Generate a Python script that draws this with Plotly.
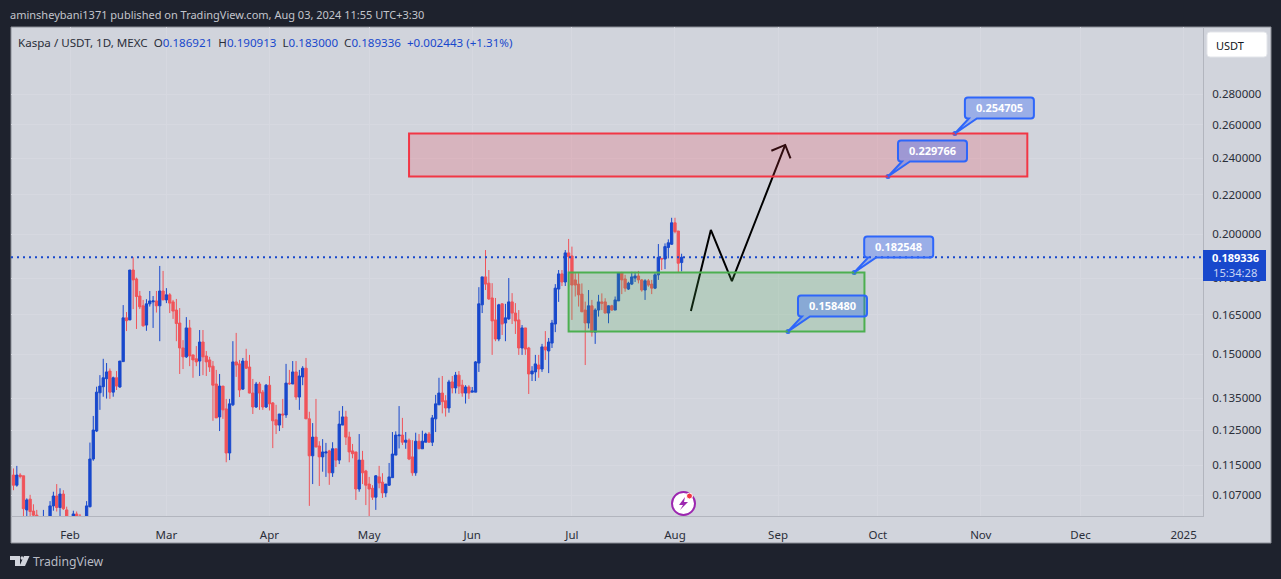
import math
import pandas as pd
import plotly.graph_objects as go

opens = [
.1123,.1096,.1123,.1121,.1033,.1060,.1030,.1020,.1006,.0996,
.1008,.1012,.1043,.1068,.1039,.1073,.1033,.1012,.1008,.1023,
.1018,.1000,.1016,.1041,.1167,.1248,.1368,.1388,.1415,.1441,
.1370,.1418,.1387,.1474,.1637,.1629,.1836,.1797,.1725,.1685,
.1609,.1693,.1701,.1705,.1685,.1746,.1709,.1730,.1701,.1668,
.1617,.1523,.1491,.1598,.1498,.1484,.1476,.1545,.1494,.1480,
.1458,.1397,.1291,.1390,.1316,.1184,.1329,.1473,.1466,.1380,
.1476,.1455,.1367,.1322,.1397,.1370,.1322,.1393,.1335,.1282,
.1266,.1300,.1297,.1400,.1397,.1438,.1354,.1421,.1451,.1285,
.1176,.1230,.1204,.1173,.1184,.1190,.1129,.1196,.1164,.1266,
.1291,.1230,.1190,.1187,.1086,.1164,.1134,.1099,.1088,.1065,
.1118,.1104,.1076,.1096,.1116,.1178,.1234,.1236,.1215,.1221,
.1173,.1129,.1218,.1196,.1215,.1239,.1215,.1285,.1329,.1367,
.1342,.1319,.1404,.1384,.1427,.1393,.1367,.1387,.1370,.1370,
.1469,.1689,.1806,.1779,.1717,.1629,.1556,.1693,.1617,.1633,
.1701,.1656,.1629,.1523,.1598,.1523,.1431,.1438,.1462,.1448,
.1527,.1512,.1541,.1613,.1754,.1819,.1784,.1913,.1899,.1793,
.1775,.1733,.1668,.1617,.1685,.1582,.1668,.1701,.1701,.1656,
.1685,.1668,.1705,.1823,.1797,.1754,.1775,.1801,.1810,.1793,
.1750,.1789,.1775,.1758,.1815,.1888,.1885,.1938,.1953,.2056,
.2016,.186921]

highs = [
.1141,.1148,.1128,.1121,.1062,.1071,.1047,.1033,.1010,.1033,
.1010,.1055,.1079,.1099,.1088,.1083,.1041,.1016,.1031,.1029,
.1023,.1016,.1055,.1214,.1294,.1388,.1427,.1484,.1469,.1450,
.1422,.1441,.1476,.1688,.1660,.1836,.1893,.1803,.1746,.1709,
.1712,.1746,.1725,.1746,.1854,.1832,.1758,.1737,.1709,.1713,
.1676,.1552,.1640,.1629,.1498,.1530,.1590,.1590,.1512,.1491,
.1476,.1445,.1431,.1390,.1348,.1348,.1548,.1579,.1480,.1487,
.1520,.1498,.1414,.1404,.1404,.1377,.1397,.1424,.1338,.1329,
.1300,.1348,.1466,.1445,.1476,.1476,.1445,.1458,.1487,.1307,
.1272,.1348,.1218,.1224,.1213,.1193,.1215,.1196,.1310,.1325,
.1310,.1246,.1210,.1187,.1239,.1190,.1137,.1118,.1096,.1123,
.1148,.1128,.1099,.1156,.1245,.1247,.1325,.1288,.1245,.1226,
.1221,.1243,.1239,.1249,.1243,.1245,.1297,.1361,.1418,.1424,
.1360,.1411,.1424,.1438,.1441,.1411,.1393,.1393,.1387,.1476,
.1762,.1806,.1926,.1836,.1779,.1717,.1693,.1696,.1693,.1801,
.1737,.1696,.1668,.1609,.1598,.1527,.1458,.1498,.1498,.1538,
.1586,.1560,.1629,.1775,.1836,.1836,.1926,.1978,.1942,.1822,
.1822,.1778,.1702,.1750,.1709,.1675,.1730,.1736,.1716,.1687,
.1689,.1723,.1823,.1828,.1815,.1785,.1828,.1828,.1832,.1797,
.1796,.1797,.1793,.1823,.1954,.1888,.1957,.1976,.2081,.2081,
.2016,.190913]

lows = [
.1083,.1092,.1114,.1000,.1008,.1008,.1008,.1004,.0992,.0992,
.0992,.1008,.1031,.1029,.1016,.1033,.1008,.0996,.1004,.1004,
.1004,.0992,.1008,.1039,.1162,.1245,.1313,.1355,.1349,.1348,
.1355,.1377,.1384,.1473,.1586,.1629,.1672,.1594,.1672,.1603,
.1587,.1682,.1598,.1658,.1548,.1709,.1696,.1656,.1633,.1548,
.1431,.1448,.1487,.1458,.1418,.1458,.1424,.1427,.1424,.1438,
.1279,.1288,.1248,.1285,.1158,.1164,.1325,.1421,.1354,.1377,
.1448,.1366,.1300,.1319,.1313,.1313,.1319,.1311,.1198,.1239,
.1248,.1257,.1288,.1394,.1397,.1345,.1313,.1393,.1285,.1043,
.1099,.1201,.1094,.1132,.1118,.1097,.1118,.1145,.1153,.1266,
.1207,.1158,.1169,.1058,.1079,.1099,.1045,.1008,.1058,.1033,
.1088,.1063,.1065,.1094,.1116,.1178,.1197,.1207,.1196,.1164,
.1121,.1121,.1196,.1196,.1215,.1215,.1204,.1245,.1329,.1302,
.1292,.1304,.1366,.1366,.1364,.1355,.1333,.1348,.1370,.1370,
.1438,.1656,.1750,.1709,.1498,.1548,.1548,.1571,.1548,.1629,
.1613,.1575,.1498,.1498,.1498,.1364,.1407,.1407,.1418,.1438,
.1480,.1434,.1523,.1582,.1701,.1767,.1767,.1762,.1629,.1723,
.1682,.1660,.1462,.1596,.1565,.1538,.1642,.1668,.1655,.1616,
.1665,.1668,.1705,.1733,.1743,.1750,.1771,.1784,.1778,.1743,
.1709,.1764,.1733,.1754,.1793,.1836,.1840,.1888,.1950,.2005,
.1825,.183000]

closes = [
.1096,.1123,.1119,.1036,.1058,.1029,.1020,.1010,.1000,.1012,
.1000,.1043,.1068,.1039,.1073,.1036,.1012,.1004,.1023,.1008,
.1008,.1008,.1043,.1167,.1251,.1370,.1390,.1418,.1438,.1370,
.1418,.1390,.1476,.1637,.1626,.1836,.1793,.1723,.1681,.1606,
.1693,.1705,.1705,.1685,.1746,.1709,.1730,.1696,.1664,.1615,
.1523,.1491,.1598,.1494,.1480,.1473,.1545,.1491,.1473,.1455,
.1393,.1288,.1390,.1313,.1184,.1332,.1473,.1462,.1377,.1476,
.1451,.1367,.1322,.1397,.1367,.1322,.1393,.1332,.1279,.1266,
.1300,.1297,.1400,.1398,.1438,.1354,.1424,.1451,.1285,.1176,
.1230,.1201,.1173,.1187,.1187,.1129,.1196,.1164,.1269,.1291,
.1230,.1187,.1182,.1086,.1164,.1129,.1096,.1086,.1065,.1121,
.1102,.1076,.1099,.1118,.1181,.1236,.1236,.1215,.1221,.1167,
.1129,.1218,.1196,.1218,.1239,.1215,.1288,.1332,.1367,.1339,
.1319,.1404,.1384,.1427,.1390,.1367,.1387,.1367,.1374,.1473,
.1693,.1806,.1775,.1713,.1625,.1556,.1689,.1613,.1637,.1701,
.1656,.1625,.1523,.1598,.1519,.1431,.1441,.1466,.1448,.1527,
.1516,.1545,.1617,.1758,.1819,.1784,.1913,.1896,.1771,.1771,
.1730,.1661,.1617,.1685,.1582,.1668,.1701,.1695,.1656,.1685,
.1668,.1709,.1823,.1793,.1758,.1779,.1806,.1810,.1793,.1750,
.1789,.1771,.1758,.1815,.1893,.1885,.1942,.1960,.2056,.2013,
.1866,.189336]

start_date = "2024-01-15"
month_ticks = ["2024-02-01","2024-03-01","2024-04-01","2024-05-01","2024-06-01","2024-07-01",
               "2024-08-01","2024-09-01","2024-10-01","2024-11-01","2024-12-01","2025-01-01"]
month_labels = ["Feb","Mar","Apr","May","Jun","Jul","Aug","Sep","Oct","Nov","Dec","2025"]
price_ticks = [.107,.115,.125,.135,.15,.165,.18,.20,.22,.24,.26,.28]

last_price = 0.189336
red_zone = dict(x0="2024-05-13", x1="2024-11-15", low=0.229766, high=0.254705)
green_zone = dict(x0="2024-06-30", x1="2024-09-27", low=0.158480, high=0.182548)
path_x = ["2024-08-05 19:00","2024-08-11 19:00","2024-08-18 03:00","2024-09-03 04:00"]
path_y = [.1664,.2021,.1788,.2478]
head_x = ["2024-08-30 00:00","2024-09-03 04:00","2024-09-04 18:00"]
head_y = [.2444,.2478,.2400]
callout_x = ["2024-10-24 05:00","2024-10-04 02:00","2024-09-23 22:00","2024-09-04 00:00"]
callout_y = [0.254705,0.229766,0.182548,0.158480]

BLUE = "#1848CC"
RED = "#F0545A"
PANEL = "#D1D4DC"
DARK = "#1E222D"
GRID = "#D6D8E0"
FONT = "Noto Sans, Roboto, sans-serif"

W, H = 1281, 579
L, R, T, B = 11, 1203, 27, 516

def sx(px): return (px - L) / (R - L)
def sy(py): return (B - py) / (B - T)
def rel(*pts):
    return " ".join(f"{a} {x-L:.1f} {T-y:.1f}" if a != "Z" else "Z" for a, x, y in pts)

def abs_rect(x0, y0, x1, y1, fill, line=None, lw=0, layer="below", r=0):
    if r:
        path = (f"M {x0+r-L} {T-y0} L {x1-r-L} {T-y0} Q {x1-L} {T-y0} {x1-L} {T-y0-r} "
                f"L {x1-L} {T-y1+r} Q {x1-L} {T-y1} {x1-r-L} {T-y1} L {x0+r-L} {T-y1} "
                f"Q {x0-L} {T-y1} {x0-L} {T-y1+r} L {x0-L} {T-y0-r} Q {x0-L} {T-y0} {x0+r-L} {T-y0} Z")
        return dict(type="path", xref="paper", yref="paper", xsizemode="pixel", ysizemode="pixel",
                    xanchor=0, yanchor=1, path=path, fillcolor=fill,
                    line=dict(color=line or fill, width=lw), layer=layer)
    return dict(type="rect", xref="paper", yref="paper", x0=sx(x0), x1=sx(x1), y0=sy(y0), y1=sy(y1),
                fillcolor=fill, line=dict(color=line or fill, width=lw), layer=layer)

dates = pd.date_range(start_date, periods=len(opens), freq="D")

fig = go.Figure()
fig.add_trace(go.Candlestick(
    x=dates, open=opens, high=highs, low=lows, close=closes, whiskerwidth=0,
    increasing=dict(line=dict(color=BLUE, width=1), fillcolor=BLUE),
    decreasing=dict(line=dict(color=RED, width=1), fillcolor=RED),
    showlegend=False, hoverinfo="skip"))

shapes = []
# light panel
shapes.append(abs_rect(11, 27, 1271, 543, PANEL, "#8A8D96", 1))
# zones
shapes.append(dict(type="rect", xref="x", yref="y", x0=red_zone["x0"], x1=red_zone["x1"],
                   y0=red_zone["low"], y1=red_zone["high"], fillcolor="rgba(242,54,69,0.2)",
                   line=dict(color="#F23645", width=2), layer="above"))
shapes.append(dict(type="rect", xref="x", yref="y", x0=green_zone["x0"], x1=green_zone["x1"],
                   y0=green_zone["low"], y1=green_zone["high"], fillcolor="rgba(76,175,80,0.2)",
                   line=dict(color="#4CAF50", width=2), layer="above"))
# last price line
shapes.append(dict(type="line", xref="paper", x0=0, x1=1, yref="y", y0=last_price, y1=last_price,
                   line=dict(color=BLUE, width=2, dash="2px,4px"), layer="above"))
# price tag
shapes.append(abs_rect(1203, 250, 1266, 281, BLUE, layer="above"))
# currency button
shapes.append(abs_rect(1207, 32, 1267, 57, "#FFFFFF", "#E3E5EA", 1, r=3))

# callouts: rounded box with a wedge towards the anchored point
box = ("M 0 0 L 22 15 L 76 15 Q 79 15 79 18 L 79 33 Q 79 36 76 36 L 13 36 Q 10 36 10 33 "
       "L 10 18 Q 10 15 13 15 L 14 15 Z")
for cx, cy in zip(callout_x, callout_y):
    shapes.append(dict(type="path", xref="x", yref="y", xsizemode="pixel", ysizemode="pixel",
                       xanchor=cx, yanchor=cy, path=box, fillcolor="rgba(41,98,255,0.33)",
                       line=dict(color="#2E66FA", width=2), layer="above"))

# power icon
shapes.append(dict(type="circle", xref="paper", yref="paper", x0=sx(672), x1=sx(695), y0=sy(492), y1=sy(515),
                   fillcolor="#FFFFFF", line=dict(color="#9C27B0", width=2), layer="above"))
shapes.append(dict(type="path", xref="paper", yref="paper", xsizemode="pixel", ysizemode="pixel", xanchor=0, yanchor=1,
                   path=rel(("M",685,497),("L",679,505),("L",683,505),("L",680,510),("L",688,502),("L",684,502),("Z",0,0)),
                   fillcolor="#9C27B0", line=dict(color="#9C27B0", width=0), layer="above"))
shapes.append(dict(type="circle", xref="paper", yref="paper", x0=sx(686.5), x1=sx(692.5), y0=sy(493), y1=sy(499),
                   fillcolor="#F23645", line=dict(color="#FFFFFF", width=1), layer="above"))
# TradingView logo
LOGO = "#D1D4DC"
shapes.append(dict(type="path", xref="paper", yref="paper", xsizemode="pixel", ysizemode="pixel", xanchor=0, yanchor=1,
                   path=rel(("M",10,556),("L",20,556),("L",20,566),("L",15,566),("L",15,560),("L",10,560),("Z",0,0)),
                   fillcolor=LOGO, line=dict(width=0), layer="above"))
shapes.append(dict(type="circle", xref="paper", yref="paper", x0=sx(20.5), x1=sx(23.5), y0=sy(556.3), y1=sy(559.7),
                   fillcolor=LOGO, line=dict(width=0), layer="above"))
shapes.append(dict(type="path", xref="paper", yref="paper", xsizemode="pixel", ysizemode="pixel", xanchor=0, yanchor=1,
                   path=rel(("M",24,556),("L",29.5,556),("L",25,566),("L",19.5,566),("Z",0,0)),
                   fillcolor=LOGO, line=dict(width=0), layer="above"))

def note(px, py, text, size, color, anchor="left", bold=False, family=FONT):
    return dict(xref="paper", yref="paper", x=sx(px), y=sy(py), text=f"<b>{text}</b>" if bold else text,
                showarrow=False, xanchor=anchor, yanchor="middle", align=anchor,
                font=dict(size=size, color=color, family=family))

def c(t): return f'<span style="color:{BLUE}">{t}</span>'

anns = [
    note(8, 15, "aminsheybani1371 published on TradingView.com, Aug 03, 2024 11:55 UTC+3:30", 11.0, "#C3C5CC"),
    note(16, 42, "Kaspa / USDT, 1D, MEXC  O" + c("0.186921") + "  H" + c("0.190913") + "  L" + c("0.183000") + "  C" + c("0.189336")
         + "  " + c("+0.002443 (+1.31%)"), 11.6, "#2A2E39"),
    note(1214, 45, "USDT", 11, "#131722"),
    note(1210, 257.5, "0.189336", 11, "#FFFFFF", bold=True),
    note(1211, 272, "15:34:28", 11.2, "#C8D4F4"),
    note(31, 561, "TradingView", 12.2, "#B8BBC4"),
]
for cx, cy in zip(callout_x, callout_y):
    anns.append(dict(xref="x", yref="y", x=cx, y=math.log10(cy), text=f"<b>{cy:.6f}</b>", showarrow=False,
                     xanchor="center", yanchor="middle", xshift=44.5, yshift=25.5,
                     font=dict(size=11, color="#FFFFFF", family=FONT)))

fig.add_trace(go.Scatter(x=path_x, y=path_y, mode="lines", line=dict(color="#000000", width=2),
                         showlegend=False, hoverinfo="skip"))
fig.add_trace(go.Scatter(x=head_x, y=head_y, mode="lines", line=dict(color="#000000", width=2),
                         showlegend=False, hoverinfo="skip"))
fig.add_trace(go.Scatter(x=callout_x, y=callout_y, mode="markers", marker=dict(color="#2E66FA", size=5),
                         showlegend=False, hoverinfo="skip"))

fig.update_layout(
    width=W, height=H, margin=dict(l=L, r=W-R, t=T, b=H-B), autosize=False,
    paper_bgcolor=DARK, plot_bgcolor="rgba(0,0,0,0)", boxgap=0.15, boxgroupgap=0.18,
    shapes=shapes, annotations=anns, showlegend=False,
    font=dict(family=FONT, color="#131722", size=11.5),
    xaxis=dict(type="date", range=["2024-01-14 06:00","2025-01-06 20:24"], rangeslider=dict(visible=False),
               tickmode="array", tickvals=month_ticks, ticktext=month_labels, ticks="outside", ticklen=8,
               tickcolor="rgba(0,0,0,0)", showgrid=True, gridcolor=GRID, gridwidth=1, zeroline=False,
               showline=True, linecolor="#B2B5BE", linewidth=1, tickfont=dict(size=11.5, color="#2A2E39")),
    yaxis=dict(type="log", side="right", range=[-0.99225, -0.48308], tickmode="array", tickvals=price_ticks,
               ticktext=[f"{v:.6f}" for v in price_ticks], ticks="outside", ticklen=6,
               tickcolor="rgba(0,0,0,0)", showgrid=True, gridcolor=GRID, gridwidth=1, zeroline=False,
               showline=True, linecolor="#B2B5BE", linewidth=1, tickfont=dict(size=11.5, color="#2A2E39")),
)

fig.write_html("out.html", config={"displayModeBar": False},
               post_script="document.body.style.margin='0';document.body.style.overflow='hidden';")
